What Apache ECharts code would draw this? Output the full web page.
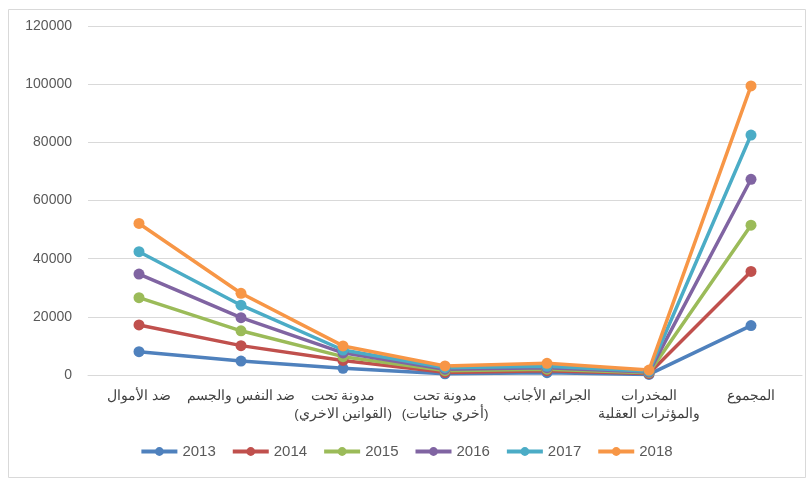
<!DOCTYPE html>
<html>
<head>
<meta charset="utf-8">
<script src="https://cdn.jsdelivr.net/npm/echarts@6/dist/echarts.min.js"></script>
<style>
html, body { margin: 0; padding: 0; background: #fff; }
#chart { width: 812px; height: 482px; }
</style>
</head>
<body>
<div id="chart"></div>
<script>
// categories (x axis)
const categories = [
    'ضد الأموال',
    'ضد النفس والجسم',
    'مدونة تحت\n(القوانين الاخري)',
    'مدونة تحت\n(أخري جنائيات)',
    'الجرائم الأجانب',
    'المخدرات\nوالمؤثرات العقلية',
    'المجموع'
]

// values per year
const years = ['2013', '2014', '2015', '2016', '2017', '2018']
const v2013 = [8000, 4800, 2300, 400, 800, 200, 17000]
const v2014 = [17200, 10100, 5000, 900, 1500, 500, 35600]
const v2015 = [26600, 15200, 6300, 1500, 2000, 800, 51500]
const v2016 = [34700, 19700, 7600, 2000, 2500, 1000, 67300]
const v2017 = [42400, 24000, 8600, 2500, 3000, 1300, 82500]
const v2018 = [52100, 28100, 10000, 3100, 4000, 1700, 99400]
const yearValues = [v2013, v2014, v2015, v2016, v2017, v2018]

const colors = ['#4F81BD', '#C0504D', '#9BBB59', '#8064A2', '#4BACC6', '#F79646']
const textColor = '#595959'
const font = 'Liberation Sans'

const chart = echarts.init(document.getElementById('chart'))

const option = {
    color: colors,
    animation: false,
    textStyle: { fontFamily: font },
    graphic: [
        {
            type: 'rect',
            shape: { x: 8.5, y: 9.5, width: 797, height: 468 },
            style: { fill: 'none', stroke: '#d9d9d9', lineWidth: 1 },
            silent: true
        }
    ],
    legend: {
        bottom: 18,
        left: 'center',
        itemWidth: 36,
        itemHeight: 11,
        itemGap: 15,
        lineStyle: { width: 4 },
        textStyle: { color: textColor, fontSize: 15, fontFamily: font },
        data: years
    },
    grid: {
        left: 88,
        right: 10,
        top: 26,
        bottom: 107
    },
    xAxis: {
        type: 'category',
        data: categories,
        boundaryGap: true,
        axisLine: { lineStyle: { color: '#d9d9d9', width: 1 } },
        axisTick: { show: false },
        axisLabel: {
            color: '#404040',
            fontSize: 13.5,
            fontFamily: font,
            margin: 12,
            lineHeight: 18,
            interval: 0
        }
    },
    yAxis: {
        type: 'value',
        min: 0,
        max: 120000,
        interval: 20000,
        axisLine: { show: false },
        axisTick: { show: false },
        splitLine: { lineStyle: { color: '#d9d9d9', width: 1 } },
        axisLabel: {
            color: textColor,
            fontSize: 14,
            fontFamily: font,
            margin: 16,
            formatter: (v) => String(v)
        }
    },
    series: years.map((y, i) => ({
        name: y,
        type: 'line',
        data: yearValues[i],
        symbol: 'circle',
        symbolSize: 11,
        lineStyle: { width: 3.5 },
        itemStyle: { color: colors[i] }
    }))
}

chart.setOption(option)
</script>
</body>
</html>
